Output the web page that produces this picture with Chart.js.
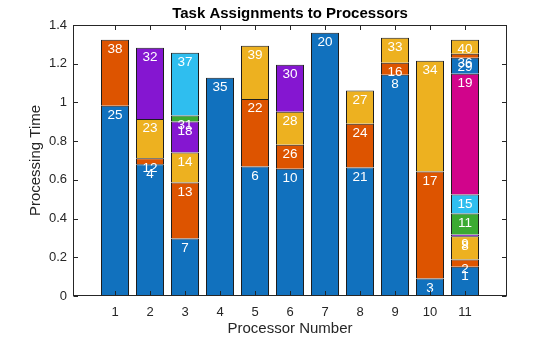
<!DOCTYPE html>
<html>
<head>
<meta charset="utf-8">
<title>Task Assignments to Processors</title>
<script src="https://cdn.jsdelivr.net/npm/chart.js@4.4.1/dist/chart.umd.min.js"></script>
<style>
  html, body { margin: 0; padding: 0; background: #fff; }
  #wrap { width: 560px; height: 337px; }
</style>
</head>
<body>
<div id="wrap"><canvas id="procChart" width="560" height="337"></canvas></div>
<script>
const processors = [1, 2, 3, 4, 5, 6, 7, 8, 9, 10, 11];
const yTicks = [0, 0.2, 0.4, 0.6, 0.8, 1, 1.2, 1.4];

// task numbers per stack layer, bottom to top (null = nothing on that processor)
const layerTasks = [
  [25, 4, 7, 35, 6, 10, 20, 21, 8, 3, 1],
  [38, 12, 13, null, 22, 26, null, 24, 16, 17, 2],
  [null, 23, 14, null, 39, 28, null, 27, 33, 34, 8],
  [null, 32, 18, null, null, 30, null, null, null, null, 9],
  [null, null, 31, null, null, null, null, null, null, null, 11],
  [null, null, 37, null, null, null, null, null, null, null, 15],
  [null, null, null, null, null, null, null, null, null, null, 19],
  [null, null, null, null, null, null, null, null, null, null, 29],
  [null, null, null, null, null, null, null, null, null, null, 36],
  [null, null, null, null, null, null, null, null, null, null, 40]
];

// processing time of each of those tasks
const layerTimes = [
  [0.983, 0.681, 0.297, 1.128, 0.669, 0.658, 1.360, 0.664, 1.143, 0.091, 0.151],
  [0.341, 0.031, 0.289, null, 0.349, 0.124, null, 0.226, 0.062, 0.552, 0.038],
  [null, 0.203, 0.155, null, 0.275, 0.170, null, 0.171, 0.129, 0.572, 0.120],
  [null, 0.367, 0.160, null, null, 0.243, null, null, null, null, 0.009],
  [null, null, 0.031, null, null, null, null, null, null, null, 0.108],
  [null, null, 0.325, null, null, null, null, null, null, null, 0.098],
  [null, null, null, null, null, null, null, null, null, null, 0.624],
  [null, null, null, null, null, null, null, null, null, null, 0.083],
  [null, null, null, null, null, null, null, null, null, null, 0.021],
  [null, null, null, null, null, null, null, null, null, null, 0.072]
];

// colour order cycles after seven layers
const layerColors = ['#1171BE', '#DD5400', '#EDB120', '#8516D1', '#3BAA32', '#2FBEEF', '#D1048B'];

const FONT = '"Liberation Sans", Arial, Helvetica, sans-serif';
const INK = '#262626';

const datasets = layerTimes.map((times, k) => ({
  data: processors
    .map((p, i) => ({ x: p, y: times[i], task: layerTasks[k][i] }))
    .filter(d => d.y != null),
  backgroundColor: layerColors[k % layerColors.length],
  borderColor: '#1e1e1e',
  borderWidth: 1,
  barPercentage: 0.8,
  categoryPercentage: 1
}));

// axes box, inward ticks, segment labels and titles
const frame = {
  id: 'frame',
  afterDatasetsDraw(chart) {
    const { ctx, chartArea: a, scales: { x, y } } = chart;
    ctx.save();

    ctx.font = '13.5px ' + FONT;
    ctx.fillStyle = '#fff';
    ctx.textAlign = 'center';
    ctx.textBaseline = 'alphabetic';
    chart.data.datasets.forEach((ds, di) => {
      chart.getDatasetMeta(di).data.forEach((bar, i) => {
        ctx.fillText(String(ds.data[i].task), bar.x, bar.y + 13.5);
      });
    });

    const L = Math.round(a.left) + 0.5, R = Math.round(a.right) - 0.5;
    const T = Math.round(a.top) + 0.5, B = Math.round(a.bottom) - 0.5;
    ctx.strokeStyle = INK;
    ctx.lineWidth = 1;
    ctx.strokeRect(L, T, R - L, B - T);

    const tl = 4.5;
    ctx.beginPath();
    processors.forEach(p => {
      const px = Math.round(x.getPixelForValue(p)) + 0.5;
      ctx.moveTo(px, B); ctx.lineTo(px, B - tl);
      ctx.moveTo(px, T); ctx.lineTo(px, T + tl);
    });
    yTicks.forEach(v => {
      const py = Math.round(y.getPixelForValue(v)) + 0.5;
      ctx.moveTo(L, py); ctx.lineTo(L + tl, py);
      ctx.moveTo(R, py); ctx.lineTo(R - tl, py);
    });
    ctx.stroke();

    const cx = (a.left + a.right) / 2;
    ctx.fillStyle = '#000';
    ctx.textBaseline = 'middle';
    ctx.font = 'bold 15px ' + FONT;
    ctx.fillText('Task Assignments to Processors', cx, 13.5);

    ctx.fillStyle = INK;
    ctx.font = '15px ' + FONT;
    ctx.fillText('Processor Number', cx, 329);

    ctx.translate(36, (a.top + a.bottom) / 2);
    ctx.rotate(-Math.PI / 2);
    ctx.fillText('Processing Time', 0, 0);
    ctx.restore();
  }
};

new Chart(document.getElementById('procChart'), {
  type: 'bar',
  data: { datasets },
  options: {
    responsive: false,
    animation: false,
    devicePixelRatio: 1,
    layout: { padding: { top: 25, right: 53, left: 0, bottom: 0 } },
    plugins: { legend: { display: false }, title: { display: false }, tooltip: { enabled: false } },
    scales: {
      x: {
        type: 'linear',
        stacked: true,
        offset: false,
        min: -0.2,
        max: 12.2,
        grid: { display: false, drawTicks: false, offset: false },
        border: { display: false },
        afterBuildTicks: s => { s.ticks = processors.map(v => ({ value: v })); },
        afterFit: s => { s.height = 41; },
        ticks: { color: INK, font: { family: FONT, size: 13 }, padding: 9, maxRotation: 0, autoSkip: false }
      },
      y: {
        stacked: true,
        min: 0,
        max: 1.4,
        grid: { display: false, drawTicks: false },
        border: { display: false },
        afterBuildTicks: s => { s.ticks = yTicks.map(v => ({ value: v })); },
        afterFit: s => { s.width = 73; },
        ticks: { color: INK, font: { family: FONT, size: 13 }, padding: 6, callback: v => String(v) }
      }
    }
  },
  plugins: [frame]
});
</script>
</body>
</html>
